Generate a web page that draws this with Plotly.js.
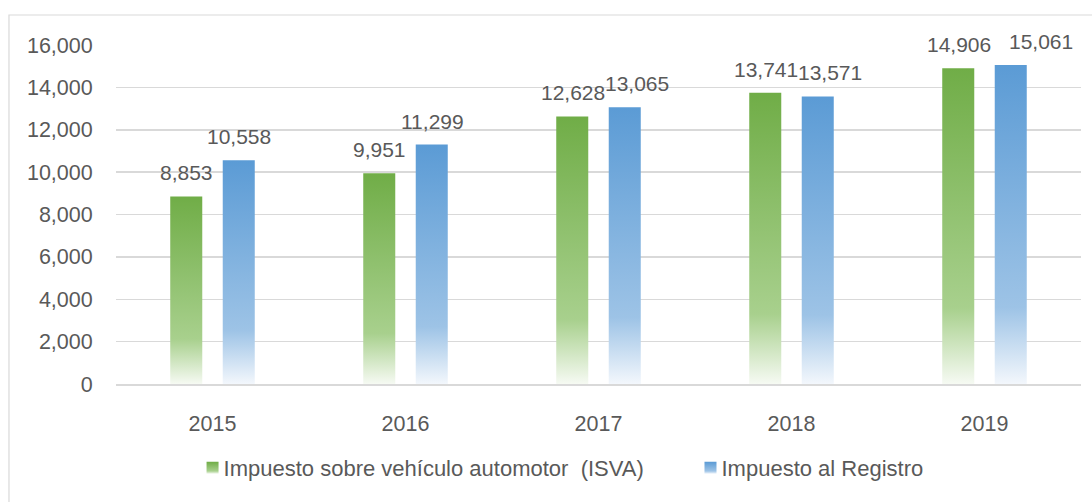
<!DOCTYPE html>
<html>
<head>
<meta charset="utf-8">
<script src="https://cdn.plot.ly/plotly-3.0.1.min.js"></script>
<style>
  html, body { margin: 0; padding: 0; background: #ffffff; }
  #chart { width: 1092px; height: 502px; }
</style>
</head>
<body>
<div id="chart"></div>
<script>
// ---- data ----
const years = ['2015', '2016', '2017', '2018', '2019'];
const isvaName = 'Impuesto sobre vehículo automotor  (ISVA)';
const isvaValues = [8853, 9951, 12628, 13741, 14906];
const registroName = 'Impuesto al Registro';
const registroValues = [10558, 11299, 13065, 13571, 15061];
const yTickValues = [0, 2000, 4000, 6000, 8000, 10000, 12000, 14000, 16000];

// ---- style ----
const FONT = 'Liberation Sans, Arial, sans-serif';
const TXT = '#595959';
const GREEN = '#70AD47';
const BLUE = '#5B9BD5';
const NUM_SIZE = 21.5;
const LABEL_SIZE = 21;
const LEG_SIZE = 22;
// label placement nudges (pixels) used to keep neighbouring labels apart
const isvaLabelNudge = [0, 0, 0, 0, 0];
const registroLabelNudge = [0, 0, 12, 12, 30];

const traces = [
  { type: 'bar', name: isvaName, x: years, y: isvaValues,
    marker: { color: GREEN }, hoverinfo: 'skip', legend: 'legend' },
  { type: 'bar', name: registroName, x: years, y: registroValues,
    marker: { color: BLUE }, hoverinfo: 'skip', legend: 'legend2' }
];

const fmt = v => v.toLocaleString('en-US');
const annotations = [];
[[isvaValues, -26, isvaLabelNudge], [registroValues, 26.5, registroLabelNudge]].forEach(([vals, dx, nudge]) => {
  vals.forEach((v, i) => {
    annotations.push({
      x: i, y: v, xref: 'x', yref: 'y', text: fmt(v),
      showarrow: false, xanchor: 'center', yanchor: 'bottom',
      xshift: dx + nudge[i], yshift: 10,
      font: { family: FONT, size: LABEL_SIZE, color: TXT }
    });
  });
});

const legendCommon = {
  orientation: 'h', xanchor: 'left', y: -0.248, yanchor: 'middle',
  font: { family: FONT, size: LEG_SIZE, color: TXT }, bgcolor: 'rgba(0,0,0,0)'
};

const layout = {
  width: 1092, height: 502,
  margin: { l: 116, r: 11, t: 45, b: 118 },
  paper_bgcolor: '#ffffff', plot_bgcolor: '#ffffff',
  barmode: 'group', bargap: 0.456, bargroupgap: 0.39,
  font: { family: FONT, size: NUM_SIZE, color: TXT },
  showlegend: true,
  legend: Object.assign({ x: 0.07 }, legendCommon),
  legend2: Object.assign({ x: 0.586 }, legendCommon),
  xaxis: {
    type: 'category', showgrid: false, zeroline: false,
    showline: true, linecolor: '#D9D9D9', linewidth: 1.5,
    ticks: 'outside', ticklen: 20, tickcolor: 'rgba(0,0,0,0)',
    tickfont: { family: FONT, size: NUM_SIZE, color: TXT }
  },
  yaxis: {
    range: [0, 16000], tickvals: yTickValues, tickformat: ',',
    showgrid: true, gridcolor: '#D9D9D9', gridwidth: 1.5,
    zeroline: false, showline: false,
    ticks: 'outside', ticklen: 18, tickcolor: 'rgba(0,0,0,0)',
    tickfont: { family: FONT, size: NUM_SIZE, color: TXT }
  },
  annotations: annotations,
  shapes: [{
    type: 'rect', xref: 'paper', yref: 'paper',
    x0: -0.1109, x1: 1.2, y0: -0.6, y1: 1.0885,
    line: { color: '#D9D9D9', width: 1.2 }, fillcolor: 'rgba(0,0,0,0)', layer: 'below'
  }]
};

const gd = document.getElementById('chart');
const NS = 'http://www.w3.org/2000/svg';

function ensureGradient(svg, id, top, mid, bottom) {
  let defs = svg.querySelector('defs');
  if (!defs) {
    defs = document.createElementNS(NS, 'defs');
    svg.insertBefore(defs, svg.firstChild);
  }
  if (svg.querySelector('#' + id)) return;
  const g = document.createElementNS(NS, 'linearGradient');
  g.setAttribute('id', id);
  g.setAttribute('x1', '0'); g.setAttribute('y1', '0');
  g.setAttribute('x2', '0'); g.setAttribute('y2', '1');
  [[0, top], [0.76, mid], [1, bottom]].forEach(([o, c]) => {
    const s = document.createElementNS(NS, 'stop');
    s.setAttribute('offset', o);
    s.setAttribute('stop-color', c);
    g.appendChild(s);
  });
  defs.appendChild(g);
}

function applyGradients() {
  const svg = gd.querySelector('svg.main-svg');
  if (!svg) return;
  ensureGradient(svg, 'gradGreen', GREEN, '#A8D08D', '#F6FAF3');
  ensureGradient(svg, 'gradBlue', BLUE, '#9DC3E6', '#F3F7FC');
  const ids = ['gradGreen', 'gradBlue'];
  gd.querySelectorAll('.barlayer .trace').forEach((t, i) => {
    t.querySelectorAll('path').forEach(p => { p.style.fill = 'url(#' + ids[i] + ')'; });
  });
  const legendClasses = ['.legend', '.legend2'];
  legendClasses.forEach((cls, i) => {
    gd.querySelectorAll(cls + ' .traces .legendpoints path').forEach(p => {
      p.style.fill = 'url(#' + ids[i] + ')';
      if (!p.dataset.shifted) {
        const tr = p.getAttribute('transform') || '';
        const m = tr.match(/translate\(\s*([-\d.]+)[ ,]+([-\d.]+)\s*\)/);
        const tx = m ? parseFloat(m[1]) : 0;
        const ty = m ? parseFloat(m[2]) : 0;
        p.setAttribute('transform', 'translate(' + (tx + 9) + ',' + ty + ')');
        p.dataset.shifted = '1';
      }
    });
  });
}

Plotly.newPlot(gd, traces, layout, { displayModeBar: false, staticPlot: true })
  .then(() => { applyGradients(); gd.on('plotly_afterplot', applyGradients); });
</script>
</body>
</html>
